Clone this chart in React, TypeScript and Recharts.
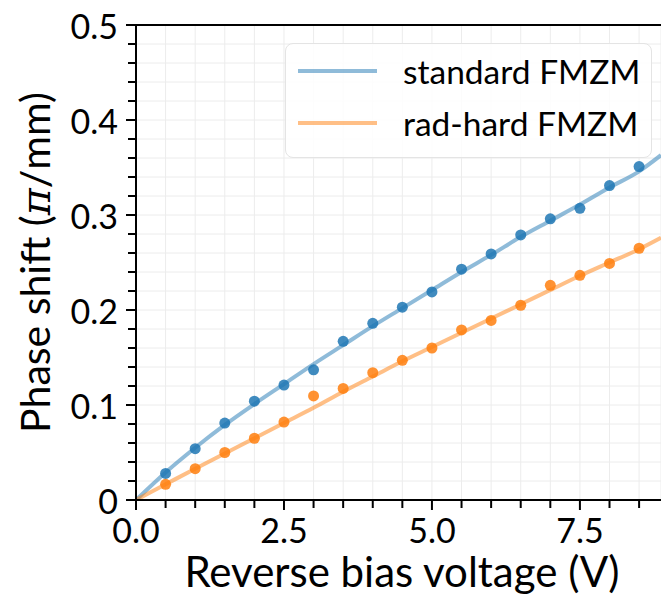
import {
  ComposedChart,
  Line,
  Scatter,
  XAxis,
  YAxis,
  CartesianGrid,
  ReferenceLine,
} from 'recharts'

const voltages = [0.5, 1, 1.5, 2, 2.5, 3, 3.5, 4, 4.5, 5, 5.5, 6, 6.5, 7, 7.5, 8, 8.5]
const standardMeasured = [0.028, 0.054, 0.081, 0.104, 0.121, 0.137, 0.167, 0.186, 0.203, 0.219, 0.243, 0.259, 0.279, 0.296, 0.307, 0.331, 0.351]
const radHardMeasured = [0.0165, 0.033, 0.05, 0.065, 0.082, 0.1095, 0.1175, 0.134, 0.147, 0.16, 0.179, 0.189, 0.205, 0.226, 0.2365, 0.249, 0.265]

const fitVoltages = [0, 0.5, 1, 1.5, 2, 2.5, 3, 3.5, 4, 4.5, 5, 5.5, 6, 6.5, 7, 7.5, 8, 8.5, 8.87]
const standardFit = [0, 0.029, 0.055, 0.079, 0.101, 0.122, 0.143, 0.163, 0.183, 0.202, 0.221, 0.24, 0.258, 0.277, 0.294, 0.311, 0.329, 0.346, 0.363]
const radHardFit = [0, 0.0165, 0.033, 0.049, 0.065, 0.081, 0.097, 0.114, 0.13, 0.146, 0.161, 0.176, 0.191, 0.206, 0.221, 0.236, 0.25, 0.264, 0.276]

const xTicks = Array.from({ length: 18 }, (_, i) => i * 0.5)
const xLabels = ['0.0', '2.5', '5.0', '7.5']
const yTicks = Array.from({ length: 26 }, (_, i) => Math.round(i * 2) / 100)
const yLabels = ['0', '0.1', '0.2', '0.3', '0.4', '0.5']

const BLUE = '#1f77b4'
const ORANGE = '#ff7f0e'
const FONT = 'Lato, "Open Sans", sans-serif'

const standardPts = voltages.map((v, i) => ({ v, phase: standardMeasured[i] }))
const radHardPts = voltages.map((v, i) => ({ v, phase: radHardMeasured[i] }))
const standardLine = fitVoltages.map((v, i) => ({ v, fit: standardFit[i] }))
const radHardLine = fitVoltages.map((v, i) => ({ v, fit: radHardFit[i] }))

const XTick = ({ x, y, payload }: any) => {
  const v = payload.value
  const idx = Math.round(v / 2.5)
  const major = Math.abs(v - idx * 2.5) < 1e-6
  return (
    <g>
      <line x1={x} x2={x} y1={y} y2={y + (major ? 10 : 8)} stroke="#000" strokeWidth={2} />
      {major && (
        <text x={x} y={y + 43} textAnchor="middle" fontSize={34} fontFamily={FONT} fill="#000">
          {xLabels[idx]}
        </text>
      )}
    </g>
  )
}

const YTick = ({ x, y, payload }: any) => {
  const v = payload.value
  const idx = Math.round(v * 10)
  const major = Math.abs(v * 10 - idx) < 1e-6
  return (
    <g>
      <line x1={x - (major ? 10 : 8)} x2={x} y1={y} y2={y} stroke="#000" strokeWidth={2} />
      {major && (
        <text x={x - 18} y={y} textAnchor="end" dominantBaseline="central" fontSize={34} fontFamily={FONT} fill="#000">
          {yLabels[idx]}
        </text>
      )}
    </g>
  )
}

const Dot = (color: string) => (p: any) => (
  <circle cx={p.cx} cy={p.cy} r={5.5} fill={color} fillOpacity={0.85} />
)

function LegendBox() {
  const rows = [
    { name: 'standard FMZM', color: BLUE },
    { name: 'rad-hard FMZM', color: ORANGE },
  ]
  return (
    <div
      style={{
        position: 'absolute',
        left: 285,
        top: 43,
        width: 367,
        height: 115,
        boxSizing: 'border-box',
        border: '1px solid #e4e4e4',
        borderRadius: 8,
        background: 'rgba(255,255,255,0.85)',
        fontFamily: FONT,
      }}
    >
      {rows.map((r, i) => (
        <div key={r.name} style={{ position: 'absolute', left: 0, top: 7 + i * 52, height: 40, width: '100%' }}>
          <div style={{ position: 'absolute', left: 12, top: 18, width: 79, height: 4, background: r.color, opacity: 0.5 }} />
          <div style={{ position: 'absolute', left: 117, top: 0, height: 40, lineHeight: '40px', fontSize: 33.5, color: '#000', whiteSpace: 'nowrap' }}>
            {r.name}
          </div>
        </div>
      ))}
    </div>
  )
}

export default function App() {
  return (
    <div style={{ position: 'absolute', left: 0, top: 0, width: 661, height: 597, background: '#fff', overflow: 'hidden' }}>
      <ComposedChart width={661} height={597} margin={{ top: 25, right: 0, left: 0, bottom: 0 }}>
        <CartesianGrid stroke="#ececec" strokeWidth={1} />
        <XAxis
          type="number"
          dataKey="v"
          domain={[0, 8.87]}
          allowDataOverflow
          ticks={xTicks}
          interval={0}
          height={97}
          tickSize={0}
          tickMargin={0}
          tickLine={false}
          axisLine={{ stroke: '#000', strokeWidth: 2 }}
          tick={<XTick />}
          label={(props: any) => {
            const vb = props.viewBox
            return (
              <text x={402} y={vb.y + 87} textAnchor="middle" fontSize={42} fontFamily={FONT} fill="#000">
                Reverse bias voltage (V)
              </text>
            )
          }}
        />
        <YAxis
          type="number"
          domain={[0, 0.5]}
          allowDataOverflow
          ticks={yTicks}
          interval={0}
          width={136}
          tickSize={0}
          tickMargin={0}
          tickLine={false}
          axisLine={{ stroke: '#000', strokeWidth: 2 }}
          tick={<YTick />}
          label={(props: any) => {
            const vb = props.viewBox
            const cy = vb.y + vb.height / 2
            return (
              <text
                x={50}
                y={cy}
                textAnchor="middle"
                transform={`rotate(-90, 50, ${cy})`}
                fontSize={41}
                fontFamily={FONT}
                fill="#000"
              >
                Phase shift (<tspan fontFamily='"DejaVu Serif", serif' fontStyle="italic">π</tspan>/mm)
              </text>
            )
          }}
        />
        <ReferenceLine y={0.5} stroke="#000" strokeWidth={2} ifOverflow="extendDomain" />
        <Line data={standardLine} dataKey="fit" type="monotone" stroke={BLUE} strokeOpacity={0.5} strokeWidth={4} dot={false} activeDot={false} isAnimationActive={false} />
        <Line data={radHardLine} dataKey="fit" type="monotone" stroke={ORANGE} strokeOpacity={0.5} strokeWidth={4} dot={false} activeDot={false} isAnimationActive={false} />
        <Scatter data={standardPts} dataKey="phase" shape={Dot(BLUE)} isAnimationActive={false} />
        <Scatter data={radHardPts} dataKey="phase" shape={Dot(ORANGE)} isAnimationActive={false} />
      </ComposedChart>
      <LegendBox />
    </div>
  )
}
